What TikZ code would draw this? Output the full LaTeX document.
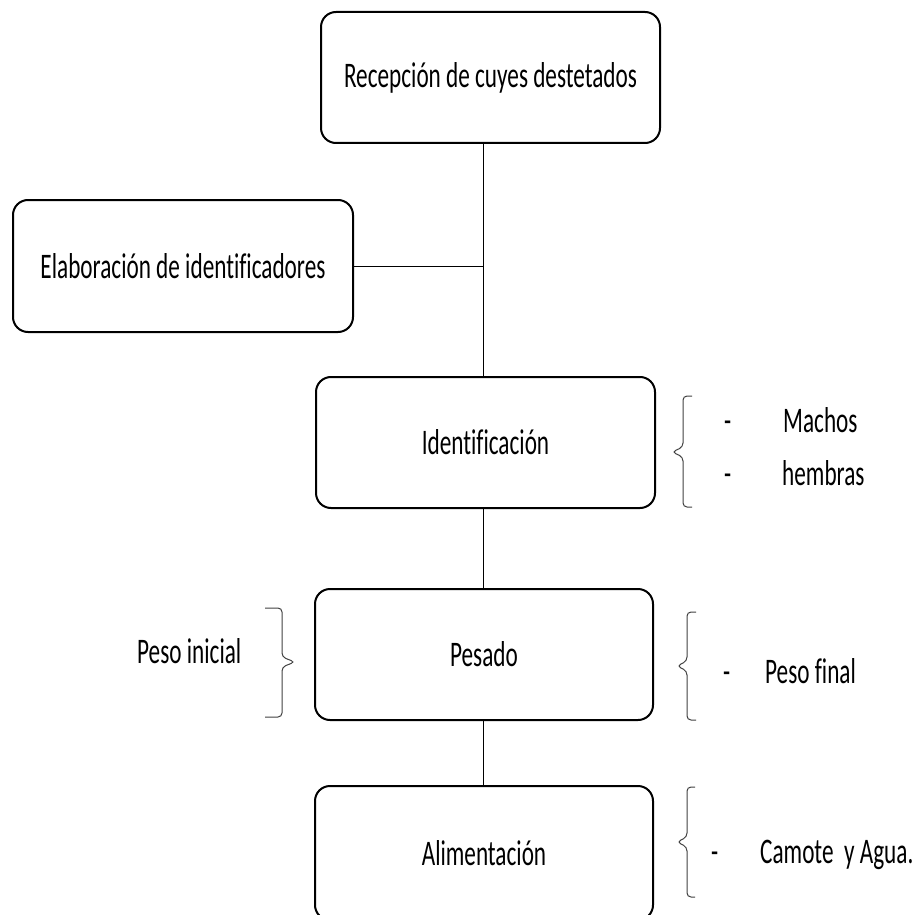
\documentclass[tikz,border=0pt]{standalone}
\usepackage{fontspec}
\setmainfont[FakeStretch=0.645,Ligatures=NoCommon]{Carlito}
\newcommand{\llave}[6]{\draw[llave] (#1,#4) -- (#2,#4) -- (#2,#6-5) -- (#3,#6) -- (#2,#6+5) -- (#2,#5) -- (#1,#5);}
\begin{document}
\begin{tikzpicture}[x=1pt,y=-1pt,
    texto/.style={font=\fontsize{36}{42}\selectfont,inner sep=0pt},
    caja/.style={texto,draw,line width=2pt,rounded corners=15pt,minimum width=338pt,minimum height=131pt},
    linea/.style={line width=1pt},
    llave/.style={draw=black!75,line width=1pt,rounded corners=4pt}]
      \def\w{921};
      \def\h{915};
      \useasboundingbox (0,0) rectangle (\w,\h);
      \clip (0,0) rectangle (\w,\h);
      \coordinate (eje) at (483,0);
      \node[caja,minimum width=339pt] (recep) at (490.5,77.5) {Recepción de cuyes destetados};
      \node[caja,minimum width=340pt,minimum height=132pt] (elab) at (183,266) {Elaboración de identificadores};
      \node[caja,minimum width=339pt] (ident) at (485.5,442.5) {Identificación};
      \node[caja] (pesado) at (484,654.5) {Pesado};
      \node[caja,minimum height=134pt] (alim) at (484,853) {Alimentación};
      \draw[linea] (recep.south -| eje) -- (ident.north -| eje);
      \draw[linea] (elab.east) -- (elab.east -| eje);
      \draw[linea] (ident.south -| eje) -- (pesado.north -| eje);
      \draw[linea] (pesado.south -| eje) -- (alim.north -| eje);
      \llave{692}{683}{672}{396}{507}{452}
      \node[texto,anchor=base west] (guion1) at (724,432) {-};
      \node[texto,anchor=base west] (machos) at (783,432) {Machos};
      \node[texto,anchor=base west] (guion2) at (724,485) {-};
      \node[texto,anchor=base west] (hembras) at (782,485) {hembras};
      \llave{265}{282}{295}{608}{717}{662}
      \node[texto,anchor=base west] (inicial) at (137,663) {Peso inicial};
      \llave{696}{687}{677}{612}{720}{666}
      \node[texto,anchor=base west] (guion3) at (723,683) {-};
      \node[texto,anchor=base west] (final) at (765,683) {Peso final};
      \llave{695}{687}{677}{787}{897}{842}
      \node[texto,anchor=base west] (guion4) at (711,863) {-};
      \node[texto,anchor=base west] (camote) at (760,863) {Camote\ \ y Agua.};
\end{tikzpicture}
\end{document}
